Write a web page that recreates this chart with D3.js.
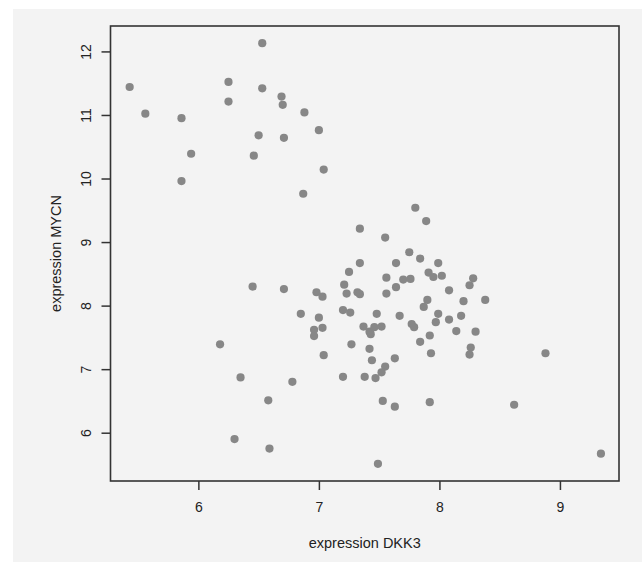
<!DOCTYPE html>
<html>
<head>
<meta charset="UTF-8">
<title>expression DKK3 vs MYCN</title>
<script src="https://d3js.org/d3.v7.min.js"></script>
<style>
  body { margin: 0; background: #fff; }
  svg { display: block; font-family: "Liberation Sans", Arial, sans-serif; }
</style>
</head>
<body>
<svg id="chart" width="642" height="562"></svg>
<script>
// values
const dkk3 = [
  5.43, 5.56, 5.86, 5.94, 5.86, 6.25, 6.25, 6.53, 6.53, 6.50, 6.46, 6.69, 6.70, 6.71, 6.88, 7.00, 7.04, 6.87, 7.34,
  7.80, 7.89, 7.55, 7.75, 7.84, 7.99, 7.34, 7.64, 7.25, 7.91, 7.95, 8.02, 7.56, 7.70, 7.76, 8.28, 8.25,
  7.21, 7.23, 7.32, 7.34, 7.56, 7.64, 8.08, 7.90, 7.87, 8.20, 8.38,
  7.20, 7.26, 7.48, 7.67, 7.99, 7.97, 8.08, 8.18, 7.77, 7.79, 7.37, 7.42, 7.43, 7.46, 7.52,
  8.14, 8.30, 7.92, 7.84, 7.27, 7.42, 7.44, 7.63, 7.93, 8.26, 8.25, 8.88,
  7.55, 7.52, 7.47, 7.20, 7.38,
  7.53, 7.63, 7.92, 8.62, 7.49, 9.34,
  6.45, 6.71, 6.98, 7.03, 6.85, 7.00, 6.96, 7.03, 6.96, 7.04, 6.18, 6.35, 6.78, 6.58, 6.30, 6.59
];
const mycn = [
  11.44, 11.02, 10.95, 10.39, 9.96, 11.52, 11.21, 12.13, 11.42, 10.68, 10.36, 11.29, 11.16, 10.64, 11.04, 10.76, 10.14, 9.76, 9.21,
  9.54, 9.33, 9.07, 8.84, 8.74, 8.67, 8.67, 8.67, 8.53, 8.52, 8.45, 8.47, 8.44, 8.41, 8.42, 8.43, 8.32,
  8.33, 8.19, 8.21, 8.18, 8.19, 8.29, 8.24, 8.09, 7.98, 8.07, 8.09,
  7.93, 7.89, 7.87, 7.84, 7.87, 7.74, 7.78, 7.84, 7.71, 7.66, 7.67, 7.59, 7.55, 7.66, 7.67,
  7.60, 7.59, 7.53, 7.43, 7.39, 7.32, 7.14, 7.17, 7.25, 7.34, 7.23, 7.25,
  7.04, 6.95, 6.86, 6.88, 6.88,
  6.50, 6.41, 6.48, 6.44, 5.51, 5.67,
  8.30, 8.26, 8.21, 8.14, 7.87, 7.81, 7.62, 7.65, 7.52, 7.22, 7.39, 6.87, 6.80, 6.51, 5.90, 5.75
];
const xTicks = [6, 7, 8, 9];
const yTicks = [6, 7, 8, 9, 10, 11, 12];
const xLabel = "expression DKK3";
const yLabel = "expression MYCN";

const svg = d3.select("#chart");

// grey photo backdrop
svg.append("rect")
  .attr("x", 13).attr("y", 9)
  .attr("width", 629).attr("height", 553)
  .attr("fill", "#f3f3f3");

const box = { left: 110.5, right: 619, top: 26, bottom: 481 };

const x = d3.scaleLinear().domain([5.271, 9.49]).range([box.left, box.right]);
const y = d3.scaleLinear().domain([5.24, 12.40]).range([box.bottom, box.top]);

const xAxis = svg.append("g")
  .attr("transform", `translate(0,${box.bottom})`)
  .call(d3.axisBottom(x).tickValues(xTicks).tickFormat(d3.format("d")).tickSize(9).tickPadding(12));

const yAxis = svg.append("g")
  .attr("transform", `translate(${box.left},0)`)
  .call(d3.axisLeft(y).tickValues(yTicks).tickFormat(d3.format("d")).tickSize(9).tickPadding(8));

[xAxis, yAxis].forEach(g => {
  g.select(".domain").remove();
  g.selectAll(".tick line").attr("stroke", "#333").attr("stroke-width", 1.5);
  g.selectAll(".tick text")
    .attr("fill", "#222")
    .style("font-size", "14px")
    .style("font-family", "'Liberation Sans', Arial, sans-serif");
});

// y tick labels run along the axis, as in R
yAxis.selectAll(".tick text")
  .attr("transform", "rotate(-90)")
  .attr("x", 0)
  .attr("y", -24)
  .attr("text-anchor", "middle")
  .attr("dy", "0.35em");

svg.append("rect")
  .attr("x", box.left).attr("y", box.top)
  .attr("width", box.right - box.left).attr("height", box.bottom - box.top)
  .attr("fill", "none")
  .attr("stroke", "#333")
  .attr("stroke-width", 1.6);

svg.append("g")
  .selectAll("circle")
  .data(dkk3.map((d, i) => [d, mycn[i]]))
  .join("circle")
  .attr("cx", d => x(d[0]))
  .attr("cy", d => y(d[1]))
  .attr("r", 4.1)
  .attr("fill", "#878787");

svg.append("text")
  .attr("x", (box.left + box.right) / 2)
  .attr("y", 548)
  .attr("text-anchor", "middle")
  .attr("fill", "#222")
  .style("font-size", "14.5px")
  .text(xLabel);

svg.append("text")
  .attr("transform", `translate(61,${(box.top + box.bottom) / 2}) rotate(-90)`)
  .attr("text-anchor", "middle")
  .attr("fill", "#222")
  .style("font-size", "14.5px")
  .text(yLabel);
</script>
</body>
</html>
